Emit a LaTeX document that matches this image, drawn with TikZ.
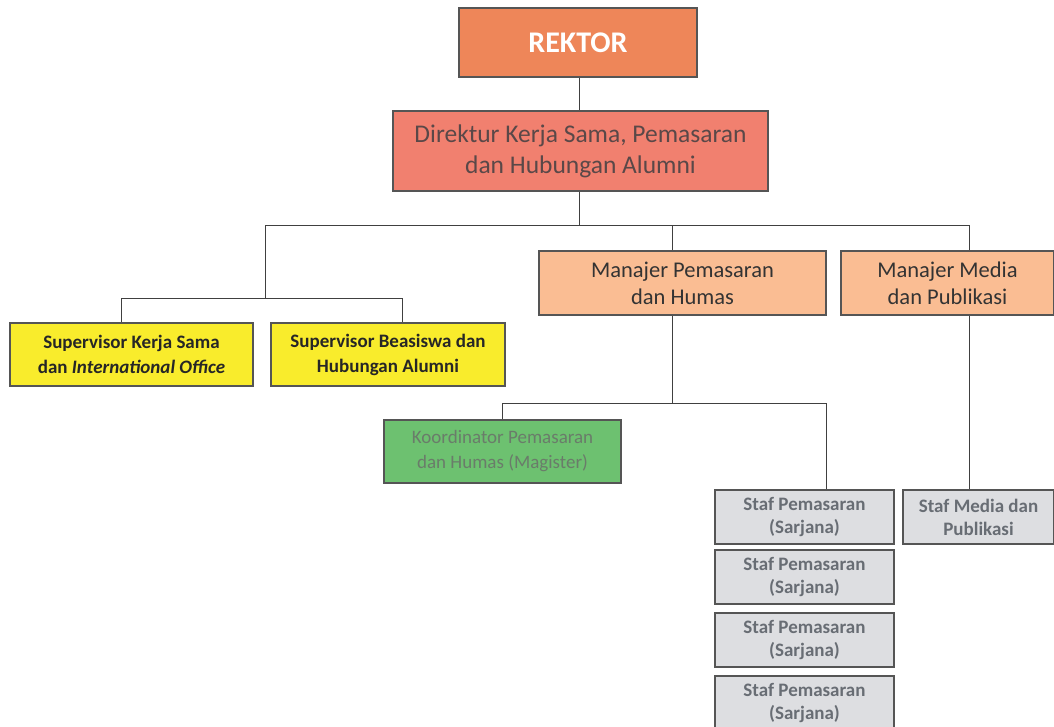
\documentclass[tikz,border=0pt]{standalone}
\usepackage{fontspec}
\setmainfont{Carlito}
\definecolor{rekC}{HTML}{EE8659}
\definecolor{dirC}{HTML}{F1806F}
\definecolor{manC}{HTML}{FABD93}
\definecolor{supC}{HTML}{F9EC2C}
\definecolor{korC}{HTML}{6DC170}
\definecolor{stfC}{HTML}{DDDEE1}
\definecolor{edgeC}{HTML}{555555}
\definecolor{dirT}{HTML}{5A4848}
\definecolor{korT}{HTML}{6A7C6A}
\definecolor{stfT}{HTML}{686D74}
\tikzset{
  box/.style={draw=edgeC, line width=1.2pt, align=center, inner sep=2pt},
  conn/.style={draw=black!75, line width=1pt},
}
\begin{document}
\begin{tikzpicture}[x=1pt,y=-1pt]
\useasboundingbox (0,0) rectangle (1054,726);
\clip (0,0) rectangle (1054,726);
\node[box, fill=rekC, minimum width=238, minimum height=69, text=white, font=\fontsize{30}{33}\selectfont\bfseries] (rek) at (578,42.5) {REKTOR};
\node[box, fill=dirC, minimum width=375, minimum height=80, text=dirT, font=\fontsize{25.5}{31}\selectfont] (dir) at (580.5,151) {Direktur Kerja Sama, Pemasaran\\dan Hubungan Alumni};
\node[box, fill=manC, minimum width=287, minimum height=64, text=black!80, font=\fontsize{22.5}{27}\selectfont] (manP) at (682.5,283) {Manajer Pemasaran\\dan Humas};
\node[box, fill=manC, minimum width=213, minimum height=64, text=black!80, font=\fontsize{22.5}{27}\selectfont] (manM) at (947.5,283) {Manajer Media\\dan Publikasi};
\node[box, fill=supC, minimum width=243, minimum height=63, text=black!85, font=\fontsize{19}{25}\selectfont\bfseries] (supK) at (131.5,354.5) {Supervisor Kerja Sama\\dan \textit{International Office}};
\node[box, fill=supC, minimum width=234, minimum height=63, text=black!85, font=\fontsize{19}{25}\selectfont\bfseries] (supB) at (388,354.5) {Supervisor Beasiswa dan\\Hubungan Alumni};
\node[box, fill=korC, minimum width=237, minimum height=63, text=korT, font=\fontsize{19}{25}\selectfont] (kor) at (502.5,451.5) {Koordinator Pemasaran\\dan Humas (Magister)};
\node[box, fill=stfC, minimum width=179, minimum height=54, text=stfT, font=\fontsize{19}{23}\selectfont\bfseries] (st1) at (804.5,517) {Staf Pemasaran\\(Sarjana)};
\node[box, fill=stfC, minimum width=179, minimum height=54, text=stfT, font=\fontsize{19}{23}\selectfont\bfseries] (st2) at (804.5,577) {Staf Pemasaran\\(Sarjana)};
\node[box, fill=stfC, minimum width=179, minimum height=54, text=stfT, font=\fontsize{19}{23}\selectfont\bfseries] (st3) at (804.5,640) {Staf Pemasaran\\(Sarjana)};
\node[box, fill=stfC, minimum width=179, minimum height=54, text=stfT, font=\fontsize{19}{23}\selectfont\bfseries] (st4) at (804.5,703) {Staf Pemasaran\\(Sarjana)};
\node[box, fill=stfC, minimum width=151, minimum height=54, text=stfT, font=\fontsize{19}{23}\selectfont\bfseries] (stM) at (978.5,517) {Staf Media dan\\Publikasi};
% connectors
\draw[conn] ([xshift=1pt]rek.south) -- ([xshift=-1.5pt]dir.north);
\draw[conn] ([xshift=-1.5pt]dir.south) -- ++(0,34) coordinate (j1);
\draw[conn] (j1) -| ([xshift=-10.5pt]manP.north);
\draw[conn] (j1) -| ([xshift=21.5pt]manM.north);
\coordinate (jS) at (265,298);
\draw[conn] (j1) -| (jS);
\draw[conn] (jS) -| ([xshift=-10.5pt]supK.north);
\draw[conn] (jS) -| ([xshift=14pt]supB.north);
\draw[conn] ([xshift=-10.5pt]manP.south) -- ++(0,88) coordinate (j2);
\draw[conn] (j2) -| (kor.north);
\draw[conn] (j2) -| ([xshift=21.5pt]st1.north);
\draw[conn] ([xshift=21.5pt]manM.south) -- ([xshift=-9.5pt]stM.north);
\end{tikzpicture}
\end{document}
